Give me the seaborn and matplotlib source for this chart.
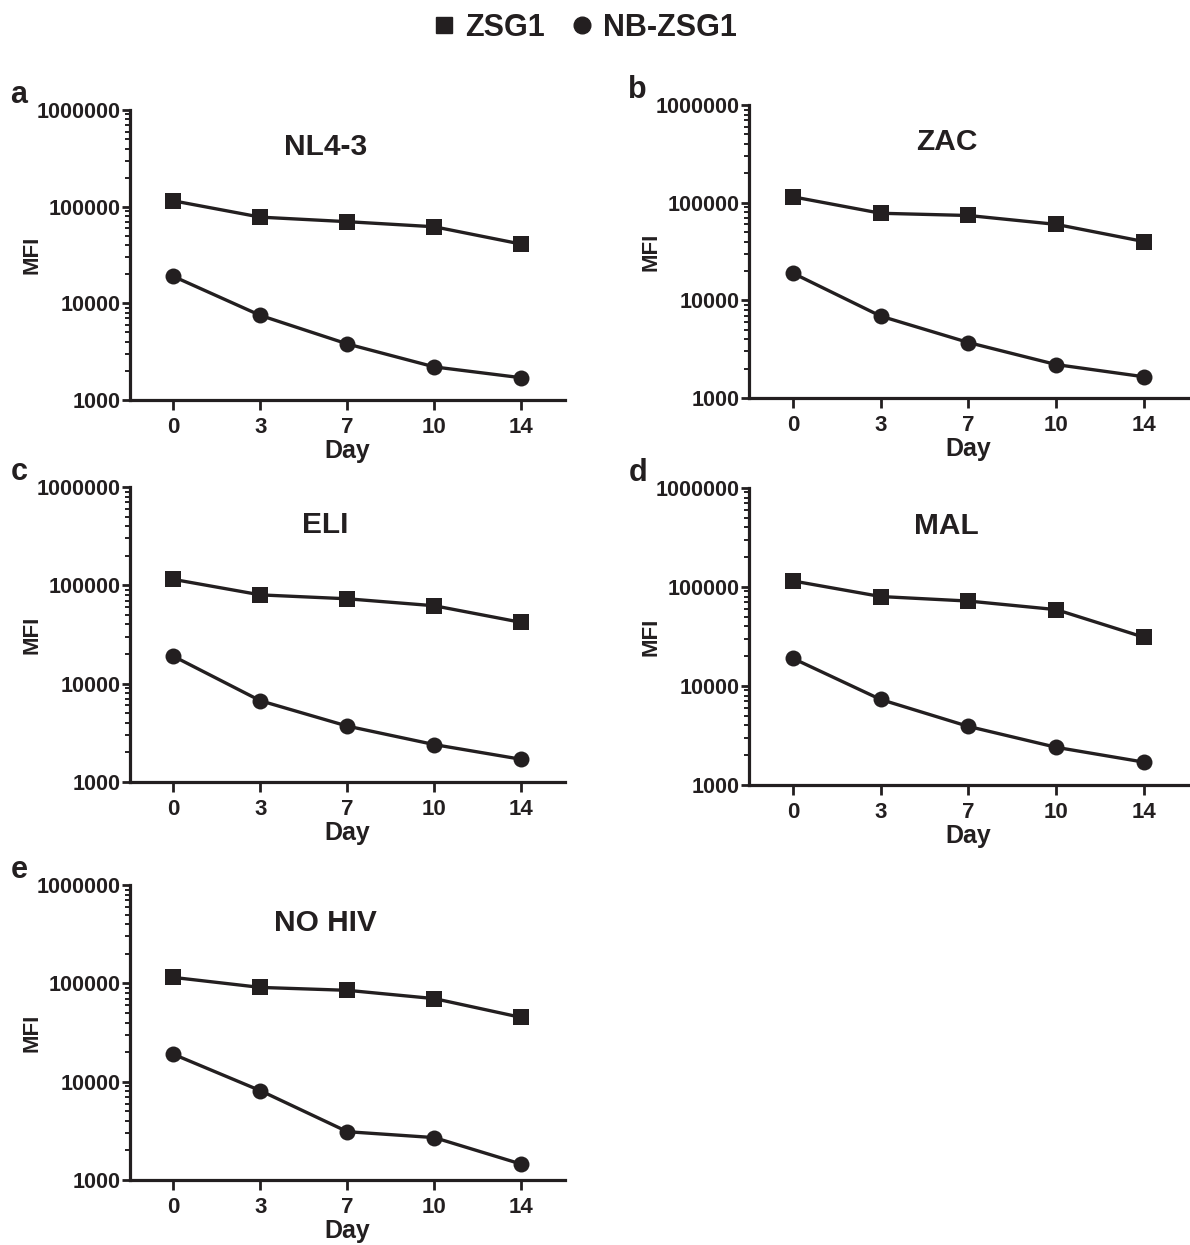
import pandas as pd
import seaborn as sns
import matplotlib.pyplot as plt
from matplotlib.lines import Line2D
from matplotlib.ticker import LogLocator, FixedLocator, FuncFormatter, NullFormatter

days = ["0", "3", "7", "10", "14"]
panels = ["NL4-3", "ZAC", "ELI", "MAL", "NO HIV"]
letters = ["a", "b", "c", "d", "e"]

zsg1 = {
    "NL4-3": [115000, 78000, 70000, 62000, 41000],
    "ZAC": [115000, 78000, 74000, 60000, 40000],
    "ELI": [115000, 80000, 73000, 62000, 42000],
    "MAL": [115000, 80000, 72000, 59000, 31000],
    "NO HIV": [115000, 91000, 85000, 70000, 45000],
}
nb_zsg1 = {
    "NL4-3": [19000, 7500, 3800, 2200, 1700],
    "ZAC": [19000, 6900, 3700, 2200, 1650],
    "ELI": [19000, 6700, 3700, 2400, 1700],
    "MAL": [19000, 7300, 3900, 2400, 1700],
    "NO HIV": [19000, 8100, 3100, 2700, 1450],
}

sns.set_theme(style="ticks")
plt.rcParams["font.family"] = ["Liberation Sans", "DejaVu Sans"]
plt.rcParams["font.weight"] = "bold"
ink = "#231f20"

fig = plt.figure(figsize=(11.9, 12.45), dpi=100)

# axes boxes (left, bottom, width, height) in figure fraction
boxes = [
    (0.1092, 0.6787, 0.3655, 0.2329),
    (0.6294, 0.6803, 0.3689, 0.2353),
    (0.1092, 0.3719, 0.3655, 0.2369),
    (0.6294, 0.3695, 0.3689, 0.2386),
    (0.1092, 0.0522, 0.3655, 0.2369),
]

for name, letter, box in zip(panels, letters, boxes):
    ax = fig.add_axes(box)
    df = pd.DataFrame({"day": days, "ZSG1": zsg1[name], "NB-ZSG1": nb_zsg1[name]})
    sns.lineplot(data=df, x="day", y="ZSG1", ax=ax, sort=False, color=ink,
                 marker="s", markersize=11, linewidth=2.4, markeredgewidth=0)
    sns.lineplot(data=df, x="day", y="NB-ZSG1", ax=ax, sort=False, color=ink,
                 marker="o", markersize=11.5, linewidth=2.4, markeredgewidth=0)

    ax.set_yscale("log")
    ax.set_ylim(1000, 1000000)
    ax.set_xlim(-0.5, 4.5)
    ax.yaxis.set_major_locator(FixedLocator([1000, 10000, 100000, 1000000]))
    ax.yaxis.set_major_formatter(FuncFormatter(lambda v, pos: f"{int(round(v))}"))
    ax.yaxis.set_minor_locator(LogLocator(base=10, subs=range(2, 10)))
    ax.yaxis.set_minor_formatter(NullFormatter())

    for side in ["top", "right"]:
        ax.spines[side].set_visible(False)
    for side in ["left", "bottom"]:
        ax.spines[side].set_linewidth(2.3)
        ax.spines[side].set_color(ink)

    ax.tick_params(axis="y", which="major", length=6, width=2, pad=1,
                   labelsize=15.5, colors=ink)
    ax.tick_params(axis="y", which="minor", length=3.5, width=1.4, colors=ink)
    ax.tick_params(axis="x", which="major", length=7, width=2, pad=5,
                   labelsize=16, colors=ink)
    for lab in ax.get_xticklabels() + ax.get_yticklabels():
        lab.set_fontweight("bold")

    ax.set_xlabel("Day", fontsize=18, fontweight="bold", color=ink, labelpad=1)
    ax.set_ylabel("MFI", fontsize=16, fontweight="bold", color=ink)
    ax.yaxis.set_label_coords(-0.20, 0.5)
    ax.text(0.45, 0.845, name, transform=ax.transAxes, ha="center", va="baseline",
            fontsize=21.5, fontweight="bold", color=ink)
    ax.text(-0.275, 1.0, letter, transform=ax.transAxes, ha="left", va="bottom",
            fontsize=22, fontweight="bold", color=ink)
    ax.set_facecolor("white")

handles = [
    Line2D([], [], linestyle="none", marker="s", markersize=12, color=ink, label="ZSG1"),
    Line2D([], [], linestyle="none", marker="o", markersize=12, color=ink, label="NB-ZSG1"),
]
fig.legend(handles=handles, loc="upper center", bbox_to_anchor=(0.49, 1.012), ncol=2,
           frameon=False, prop={"size": 22, "weight": "bold"}, handletextpad=0.2,
           columnspacing=0.7, handlelength=1.0, labelcolor=ink)

fig.savefig("out.png", dpi=100, facecolor="white")
